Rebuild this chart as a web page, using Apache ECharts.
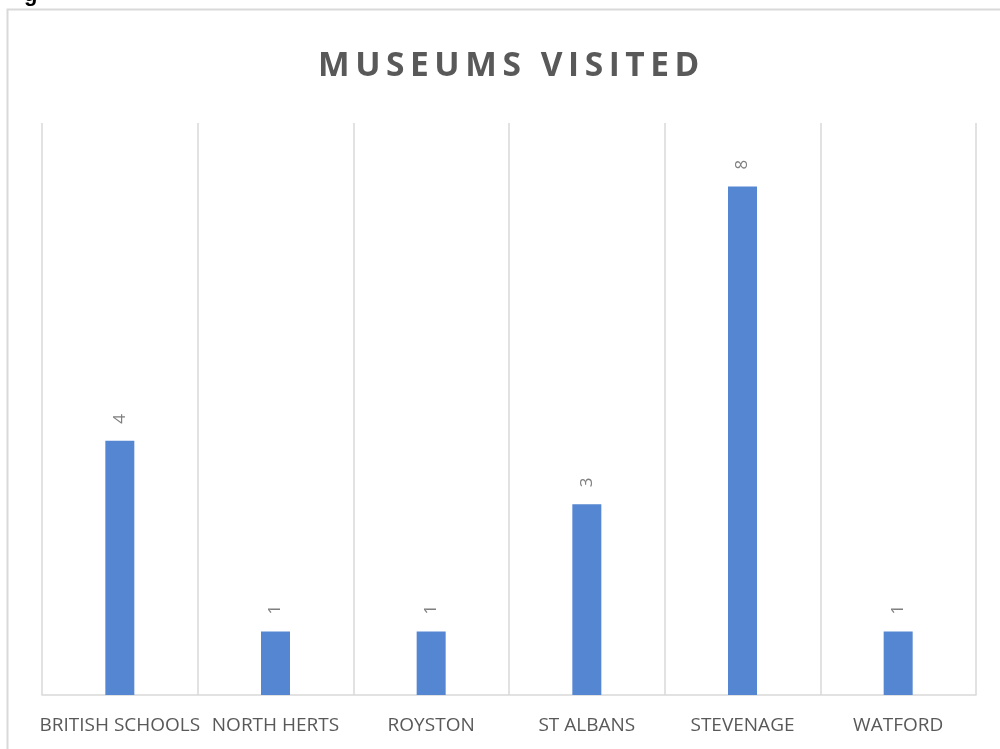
<!DOCTYPE html>
<html>
<head>
<meta charset="utf-8">
<style>
  html, body { margin: 0; padding: 0; background: #ffffff; }
  #chart { width: 1000px; height: 749px; }
</style>
<script src="https://cdn.jsdelivr.net/npm/echarts@6/dist/echarts.min.js"></script>
</head>
<body>
<div id="chart"></div>
<script>
// Museums visited per area
const categories = ['BRITISH SCHOOLS', 'NORTH HERTS', 'ROYSTON', 'ST ALBANS', 'STEVENAGE', 'WATFORD'];
const visits = [4, 1, 1, 3, 8, 1];
const titleText = 'MUSEUMS VISITED';

// Widen the title's letter spacing with thin spaces between characters
const spacedTitle = titleText.split('').join('\u2009');

const chart = echarts.init(document.getElementById('chart'), null, { renderer: 'canvas' });

chart.setOption({
  backgroundColor: '#ffffff',
  animation: false,
  title: {
    text: spacedTitle,
    left: 313,
    top: 44,
    padding: 5,
    textStyle: {
      fontFamily: 'Open Sans',
      fontWeight: 'bold',
      fontSize: 33.5,
      color: '#595959'
    }
  },
  graphic: [
    {
      type: 'rect',
      silent: true,
      shape: { x: 7.5, y: 9.5, width: 1010, height: 760 },
      style: { fill: 'none', stroke: '#d9d9d9', lineWidth: 2 }
    },
    {
      type: 'text',
      silent: true,
      left: 24,
      top: -16,
      style: { text: 'g', font: 'bold 22px "Liberation Sans"', fill: '#000000' }
    }
  ],
  grid: { left: 42, right: 24, top: 123, bottom: 54 },
  xAxis: {
    type: 'category',
    data: categories,
    boundaryGap: true,
    axisLine: { show: true, lineStyle: { color: '#d9d9d9', width: 1.5 } },
    axisTick: { show: false },
    splitLine: { show: true, lineStyle: { color: '#d9d9d9', width: 1.5 } },
    axisLabel: {
      interval: 0,
      margin: 21,
      fontFamily: 'Open Sans',
      fontSize: 19,
      color: '#595959'
    }
  },
  yAxis: {
    type: 'value',
    min: 0,
    max: 9,
    interval: 1,
    show: false,
    splitLine: { show: false }
  },
  series: [
    {
      type: 'bar',
      data: visits,
      barWidth: 29,
      itemStyle: { color: '#5586d1' },
      label: {
        show: true,
        position: 'top',
        rotate: 90,
        align: 'left',
        verticalAlign: 'middle',
        distance: 17,
        fontFamily: 'Open Sans',
        fontSize: 17,
        color: '#7f7f7f'
      }
    }
  ]
});
</script>
</body>
</html>
